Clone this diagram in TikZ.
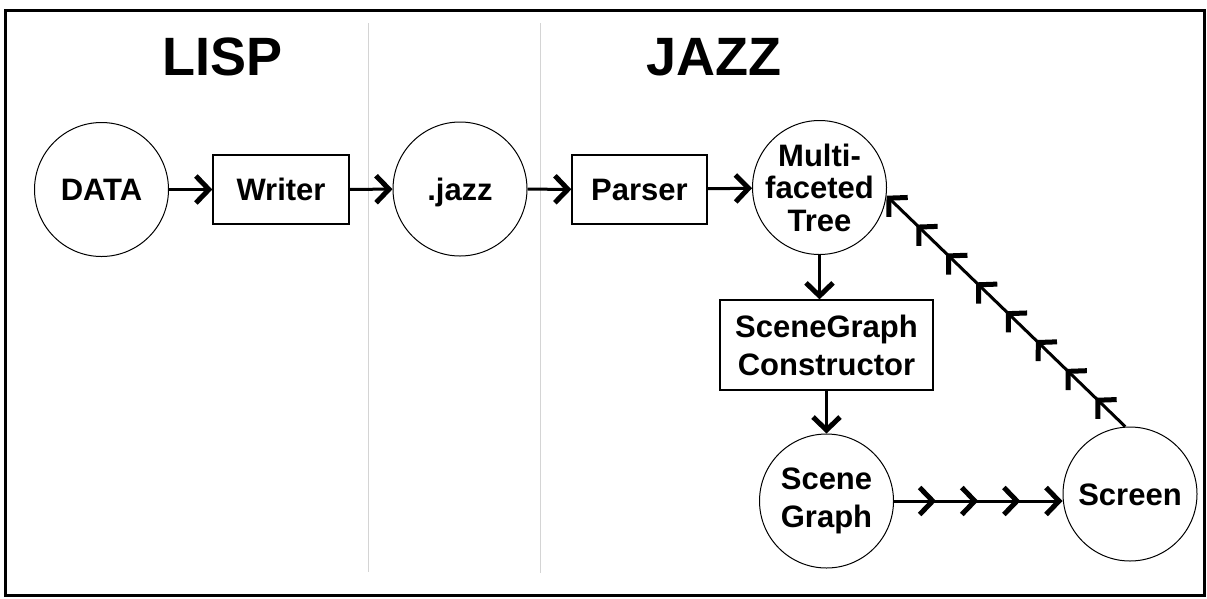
\documentclass[tikz,border=0pt]{standalone}
\usepackage{fontspec}
\setmainfont{Liberation Sans}
\usetikzlibrary{arrows.meta,decorations.markings}
\begin{document}
\begin{tikzpicture}[x=1pt,y=-1pt,
  chev/.tip={Straight Barb[length=13pt,width=27pt,line width=5pt]},
  lbl/.style={font=\bfseries\fontsize{31}{31}\selectfont,align=center},
  circ/.style={circle,draw,line width=1pt,minimum size=134pt,inner sep=-12pt,lbl},
  box/.style={rectangle,draw,line width=1.3pt,inner sep=0pt,lbl},
  oneline/.style={text height=22pt,text depth=0pt},
  title/.style={font=\bfseries\fontsize{54}{54}\selectfont,anchor=base},
  conn/.style={line width=3pt,-chev},
  multithree/.style={conn,postaction={decorate},decoration={markings,
     mark=between positions 0.25 and 0.8 step 0.25 with {\arrow{chev}}}},
  multiseven/.style={conn,postaction={decorate},decoration={markings,
     mark=between positions 0.125 and 0.9 step 0.125 with {\arrow{chev}}}},
  divider/.style={draw=black!17,line width=1.5pt}]
\fill[white] (0,0) rectangle (1207,598);
\useasboundingbox (0,0) rectangle (1207,598);
\draw[line width=2.5pt] (5.5,10.5) rectangle (1204.5,595.5);
\draw[divider] (368.5,23) -- (368.5,572);
\draw[divider] (540.5,23) -- (540.5,573);
\node[title] (lisp) at (222.5,75) {LISP};
\node[title] (jazztitle) at (714,75) {JAZZ};
\node[circ,oneline] (data) at (101.5,189.5) {DATA};
\node[box,oneline,minimum width=136pt,minimum height=69pt] (writer) at (281,189.5) {Writer};
\node[circ,oneline] (jazz) at (460,189) {.jazz};
\node[box,oneline,minimum width=135pt,minimum height=69pt] (parser) at (639.5,189.5) {Parser};
\node[circ,font=\bfseries\fontsize{31}{32.5}\selectfont] (tree) at (819.5,187.5) {Multi-\\faceted\\Tree};
\node[box,minimum width=213pt,minimum height=90pt,font=\bfseries\fontsize{31}{38}\selectfont] (ctor) at (826.5,345) {SceneGraph\\Constructor};
\node[circ,font=\bfseries\fontsize{31}{38}\selectfont] (sg) at (826.5,501) {Scene\\Graph};
\node[circ,oneline] (scr) at (1130,494) {Screen};
\draw[conn] (data) -- (writer);
\draw[conn] (writer) -- (jazz);
\draw[conn] (jazz) -- (parser);
\draw[conn] (parser) -- (tree);
\draw[conn] (tree.south) -- (tree.south |- ctor.north);
\draw[conn] (ctor) -- (sg);
\draw[multithree] (sg.east) -- (sg.east -| scr.west);
\draw[multiseven] (scr.94) -- (tree.-7);
\end{tikzpicture}
\end{document}
